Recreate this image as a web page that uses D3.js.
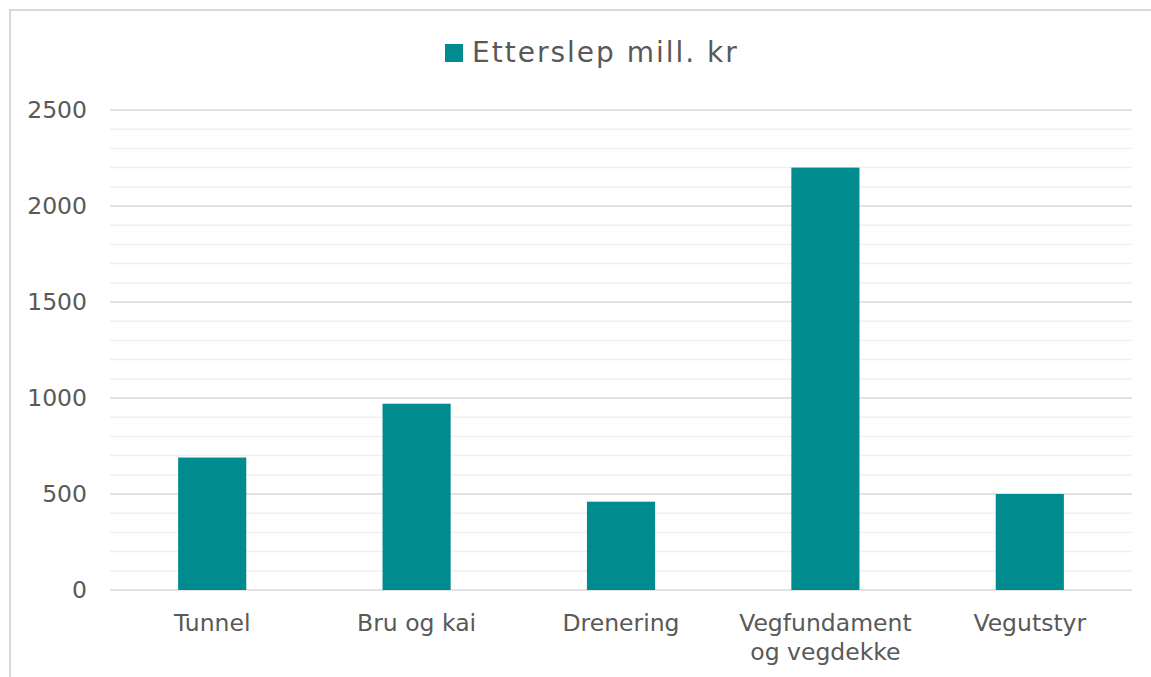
<!DOCTYPE html>
<html>
<head>
<meta charset="utf-8">
<script src="https://cdn.jsdelivr.net/npm/d3@7"></script>
<style>
  html, body { margin: 0; padding: 0; background: #ffffff; }
  svg { display: block; font-family: "DejaVu Sans", Verdana, sans-serif; }
</style>
</head>
<body>
<svg id="chart" width="1151" height="677"></svg>
<script>
// Etterslep per vegelement (mill. kr)
const categories = ["Tunnel", "Bru og kai", "Drenering", "Vegfundament og vegdekke", "Vegutstyr"];
const categoryLines = [["Tunnel"], ["Bru og kai"], ["Drenering"], ["Vegfundament", "og vegdekke"], ["Vegutstyr"]];
const values = [690, 970, 460, 2200, 500];
const seriesName = "Etterslep mill. kr";
const majorTicks = [0, 500, 1000, 1500, 2000, 2500];
const minorTicks = d3.range(0, 2501, 100);

const svg = d3.select("#chart");
const W = 1151, H = 677;
const plot = { left: 110, right: 1132, top: 110, bottom: 590 };
const barColor = "#008b8f";
const textColor = "#595959";

// outer chart frame (continues past the right and bottom edges)
svg.append("path")
  .attr("d", `M10,${H + 5} L10,10 L${W + 5},10`)
  .attr("fill", "none")
  .attr("stroke", "#d9d9d9")
  .attr("stroke-width", 2);

const x = d3.scaleBand().domain(categories).range([plot.left, plot.right]).padding(0);
const y = d3.scaleLinear().domain([0, 2500]).range([plot.bottom, plot.top]);

// minor gridlines
svg.append("g").selectAll("line")
  .data(minorTicks.filter(v => v % 500 !== 0))
  .join("line")
  .attr("x1", plot.left).attr("x2", plot.right)
  .attr("y1", d => y(d)).attr("y2", d => y(d))
  .attr("stroke", "#f0f0f0")
  .attr("stroke-width", 1.5);

// major gridlines
svg.append("g").selectAll("line")
  .data(majorTicks)
  .join("line")
  .attr("x1", plot.left).attr("x2", plot.right)
  .attr("y1", d => y(d)).attr("y2", d => y(d))
  .attr("stroke", "#d9d9d9")
  .attr("stroke-width", 1.5);

// y axis labels
const yAxis = d3.axisLeft(y).tickValues(majorTicks).tickSize(0).tickPadding(23).tickFormat(d3.format("d"));
const gy = svg.append("g").attr("transform", `translate(${plot.left},0)`).call(yAxis);
gy.select(".domain").remove();
gy.selectAll("text")
  .attr("fill", textColor)
  .style("font-size", "23.5px")
  .style("font-family", '"DejaVu Sans", Verdana, sans-serif');

// bars: one third of each category band, centred
const barW = x.bandwidth() / 3;
svg.append("g").selectAll("rect")
  .data(values)
  .join("rect")
  .attr("x", (d, i) => x(categories[i]) + (x.bandwidth() - barW) / 2)
  .attr("y", d => y(d))
  .attr("width", barW)
  .attr("height", d => y(0) - y(d))
  .attr("fill", barColor);

// x axis category labels
const xl = svg.append("g").selectAll("text")
  .data(categories)
  .join("text")
  .attr("x", d => x(d) + x.bandwidth() / 2)
  .attr("y", 631)
  .attr("text-anchor", "middle")
  .attr("fill", textColor)
  .style("font-size", "23.5px");
xl.each(function (d, i) {
  const t = d3.select(this);
  categoryLines[i].forEach((line, j) => {
    t.append("tspan")
      .attr("x", x(d) + x.bandwidth() / 2)
      .attr("dy", j === 0 ? 0 : 29)
      .text(line);
  });
});

// legend
const legend = svg.append("g");
legend.append("rect")
  .attr("x", 445).attr("y", 44)
  .attr("width", 18).attr("height", 18)
  .attr("fill", barColor);
legend.append("text")
  .attr("x", 472)
  .attr("y", 62)
  .attr("fill", textColor)
  .style("font-size", "28px")
  .style("letter-spacing", "2px")
  .text(seriesName);
</script>
</body>
</html>
